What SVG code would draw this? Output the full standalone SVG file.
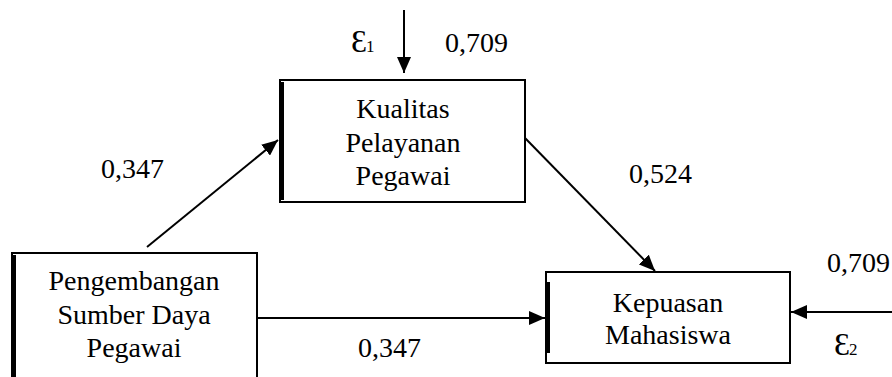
<svg xmlns="http://www.w3.org/2000/svg" width="892" height="377" viewBox="0 0 892 377">
<style>
text{font-family:"Liberation Serif","Times New Roman",serif;font-size:28px;fill:#000}
.c{text-anchor:middle}
.box{fill:#fff;stroke:#000;stroke-width:2}
.thick{stroke:#000;stroke-width:4}
.edge{stroke:#000;stroke-width:2;fill:none;marker-end:url(#ah)}
.eps{font-size:32px}
.sub{font-size:17px}
</style>
<defs>
<marker id="ah" viewBox="0 0 16 14" refX="16" refY="7" markerWidth="16" markerHeight="14" markerUnits="userSpaceOnUse" orient="auto">
<path d="M0,0 L16,7 L0,14 z" fill="#000"/>
</marker>
</defs>
<rect width="892" height="377" fill="#fff"/>
<g id="connectors">
<line class="edge" x1="404" y1="10" x2="404" y2="73"/>
<line class="edge" x1="147" y1="247" x2="278" y2="140"/>
<line class="edge" x1="525" y1="138" x2="655" y2="271"/>
<line class="edge" x1="257" y1="318" x2="545" y2="318"/>
<line class="edge" x1="892" y1="312" x2="791" y2="312"/>
</g>
<g id="kualitas">
<rect class="box" x="280" y="80" width="245" height="122"/>
<line class="thick" x1="282" y1="82" x2="282" y2="200"/>
<text class="c" x="403" y="118">Kualitas</text>
<text class="c" x="403" y="152">Pelayanan</text>
<text class="c" x="403" y="185">Pegawai</text>
</g>
<g id="pengembangan">
<rect class="box" x="12" y="253" width="245" height="140"/>
<line class="thick" x1="14" y1="255" x2="14" y2="377"/>
<text class="c" x="134" y="290">Pengembangan</text>
<text class="c" x="134" y="324">Sumber Daya</text>
<text class="c" x="134" y="357">Pegawai</text>
</g>
<g id="kepuasan">
<rect class="box" x="546" y="272" width="244" height="91"/>
<line class="thick" x1="548" y1="282" x2="548" y2="353"/>
<text class="c" x="668" y="312">Kepuasan</text>
<text class="c" x="668" y="344">Mahasiswa</text>
</g>
<g id="labels">
<text x="351" y="52"><tspan class="eps">Ɛ</tspan><tspan class="sub" dx="-1">1</tspan></text>
<text x="445" y="52">0,709</text>
<text x="101" y="178">0,347</text>
<text x="629" y="183">0,524</text>
<text x="358" y="357">0,347</text>
<text x="827" y="272">0,709</text>
<text x="834" y="355"><tspan class="eps">Ɛ</tspan><tspan class="sub" dx="-1">2</tspan></text>
</g>
</svg>
